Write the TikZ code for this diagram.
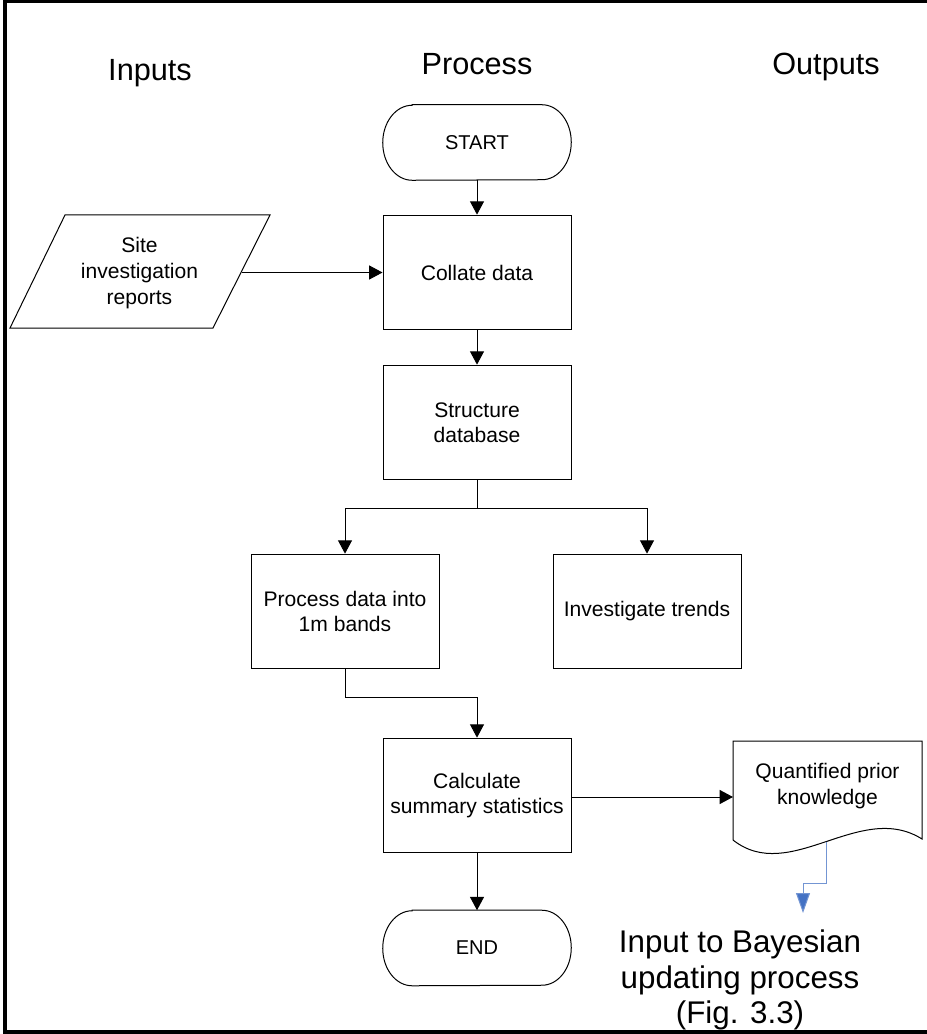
\documentclass[tikz,border=0pt]{standalone}
\usepackage{fontspec}
\setmainfont{Liberation Sans}
\usetikzlibrary{arrows.meta}
\definecolor{arrowblue}{HTML}{4472C4}
\begin{document}
\begin{tikzpicture}[x=0.75pt,y=-0.75pt,
  conn/.style={line width=0.75pt, -{Triangle[length=10pt,width=10.5pt]}},
  plainline/.style={line width=0.75pt},
  boxtext/.style={font=\fontsize{15.8}{19}\selectfont, align=center},
  procbox/.style={draw, line width=0.75pt, minimum width=141pt, minimum height=86pt, inner sep=0pt, boxtext},
  termbox/.style={minimum width=141pt, minimum height=56.25pt, inner sep=0pt, font=\fontsize{15}{18}\selectfont},
  outline/.style={line width=0.75pt},
  header/.style={font=\fontsize{23}{27}\selectfont, anchor=base, inner sep=0pt},
  blueconn/.style={draw=arrowblue!75, line width=0.75pt, -{Triangle[length=15pt,width=10.5pt,fill=arrowblue]}},
]
\useasboundingbox (0,0) rectangle (926,1034);
% frame
\draw[line width=2.6pt, line join=miter] (930,1.7) -- (5,1.7) -- (5,1032) -- (930,1032);

% headers
\node[header] (hin) at (150,81) {Inputs};
\node[header] (hproc) at (477,75) {Process};
\node[header] (hout) at (826,75) {Outputs};

% terminals
\node[termbox] (start) at (477,142.5) {START};
\node[termbox] (endn) at (477,948) {END};
\foreach \n in {start,endn}{
  \draw[outline] ([xshift=22pt]\n.north west) -- ([xshift=-22pt]\n.north east)
    arc[start angle=90,end angle=-90,x radius=22pt,y radius=28.125pt]
    -- ([xshift=22pt]\n.south west)
    arc[start angle=270,end angle=90,x radius=22pt,y radius=28.125pt] -- cycle;
}

% process boxes
\node[procbox] (collate) at (477,272.5) {Collate data};
\node[procbox] (struct) at (477,422.5) {Structure\\database};
\node[procbox] (procd) at (345,611.5) {Process data into\\1m bands};
\node[procbox] (invest) at (647,611.5) {Investigate trends};
\node[procbox] (calc) at (477,795.5) {Calculate\\summary statistics};

% input parallelogram
\draw[outline] (65,215) -- (270,215) -- (213,328) -- (10,328) -- cycle;
\node[boxtext, font=\fontsize{15.8}{19.5}\selectfont] (site) at (139.5,273) {Site\\investigation\\reports};
\coordinate (sitee) at (241.5,272.5);

% output document
\draw[outline] (733,741) -- (922,741) -- (922,839)
  .. controls (860,800) and (790,885) .. (733,840) -- cycle;
\node[boxtext] (doc) at (827.5,786) {Quantified prior\\knowledge};
\coordinate (docw) at (733,797);
\coordinate (wave) at (826,842);
\coordinate (bayin) at (803,913);

% connectors
\draw[conn] (start) -- (collate);
\draw[conn] (sitee) -- (collate.west);
\draw[conn] (collate) -- (struct);
\coordinate (split) at (477,508);
\draw[plainline] (struct.south) -- (split);
\draw[conn] (split) -| (procd.north);
\draw[conn] (split) -| (invest.north);
\coordinate (join) at (477,697);
\draw[conn] (procd.south) |- (join) -- (calc.north);
\draw[conn] (calc) -- (endn);
\draw[conn] (calc.east |- docw) -- (docw);
\draw[blueconn] (wave) -- (826,883) -| (bayin);

% final output text
\node[font=\fontsize{23.5}{26.5}\selectfont, align=center, anchor=north, inner sep=0pt] (bay) at (740,930) {Input to Bayesian\\updating process\\(Fig. 3.3)};
\end{tikzpicture}
\end{document}
